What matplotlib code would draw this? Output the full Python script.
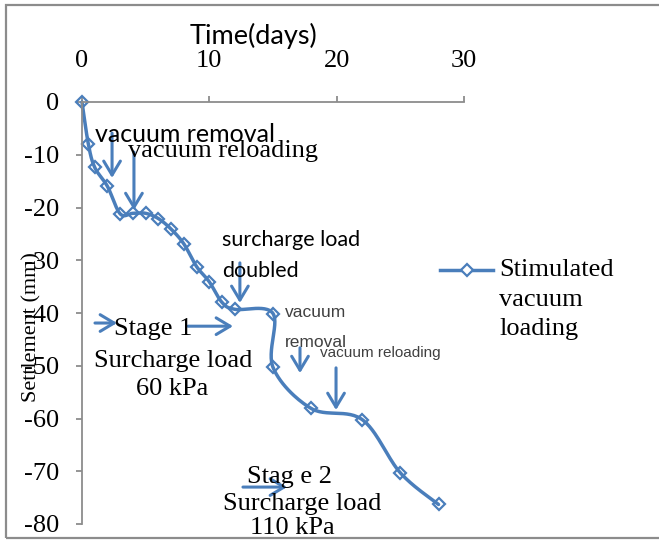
import numpy as np
import matplotlib
matplotlib.use('Agg')
import matplotlib.pyplot as plt
from matplotlib.lines import Line2D
from matplotlib.patches import Rectangle

# Settlement record
days = [0, 0.5, 1, 2, 3, 4, 5, 6, 7, 8, 9, 10, 11, 12, 15, 15, 18, 22, 25, 28]
settlement = [0, -8, -12.4, -16, -21.2, -21.1, -21.1, -22.1, -24.1, -26.9,
              -31.2, -34.1, -38, -39.3, -40.1, -50.3, -58.1, -60.2, -70.3, -76.3]
x_ticks = [0, 10, 20, 30]
y_ticks = [0, -10, -20, -30, -40, -50, -60, -70, -80]

BLUE = '#4A7EBB'
SERIF = 'Liberation Serif'
SANS = 'Lato'
NARROW = ['DejaVu Sans Condensed', 'Liberation Sans Narrow', 'Liberation Sans']

plt.rcParams['axes.unicode_minus'] = False


def smooth_curve(x, y, n=30):
    # Bezier smoothing through every point, like a spreadsheet "smoothed line"
    p = np.column_stack([x, y]).astype(float)
    ext = np.vstack([p[0], p, p[-1]])
    out = []
    s = np.linspace(0, 1, n)[:, None]
    for i in range(len(p) - 1):
        p0, p1, p2, p3 = ext[i], ext[i + 1], ext[i + 2], ext[i + 3]
        c1 = p1 + (p2 - p0) / 6.0
        c2 = p2 - (p3 - p1) / 6.0
        seg = ((1 - s) ** 3) * p1 + 3 * ((1 - s) ** 2) * s * c1 + 3 * (1 - s) * s ** 2 * c2 + s ** 3 * p2
        out.append(seg)
    out = np.vstack(out)
    return out[:, 0], out[:, 1]


fig = plt.figure(figsize=(6.59, 5.40), dpi=100)
fig.patches.append(Rectangle((6 / 659, 1 - 538 / 540), 1.0, 533 / 540, transform=fig.transFigure,
                             fill=False, edgecolor='#8c8c8c', lw=1.6))
ax = fig.add_axes([82 / 659, 1 - 524 / 540, 382 / 659, 422 / 540])

sx, sy = smooth_curve(days, settlement)
ax.plot(sx, sy, color=BLUE, lw=2.5, solid_capstyle='round', clip_on=False)
ax.plot(days, settlement, ls='none', marker='D', ms=6.5, mfc='none', mec=BLUE, mew=1.6, clip_on=False)

ax.set_xlim(0, 30)
ax.set_ylim(-80, 0)
ax.set_xticks(x_ticks)
ax.set_yticks(y_ticks)
ax.xaxis.tick_top()
for side in ['bottom', 'right']:
    ax.spines[side].set_visible(False)
for side in ['top', 'left']:
    ax.spines[side].set_color('#8c8c8c')
    ax.spines[side].set_linewidth(1.3)
ax.tick_params(axis='both', direction='out', length=4.5, width=1.3, color='#8c8c8c')
ax.tick_params(axis='x', pad=17)
ax.tick_params(axis='y', pad=12)
for lab in ax.get_xticklabels() + ax.get_yticklabels():
    lab.set_fontfamily(SERIF)
    lab.set_fontsize(19)

fig.text(253 / 659, 1 - 36 / 540, 'Time(days)', family=SANS, fontsize=19.5, ha='center', va='center')
fig.text(32 / 659, 1 - 327 / 540, 'Settlement (mm)', family=SERIF, fontsize=16,
         rotation=90, ha='center', va='center')

# legend drawn beside the plot
fig.add_artist(Line2D([440 / 659, 493 / 659], [1 - 270 / 540] * 2, color=BLUE, lw=2.5,
                      transform=fig.transFigure))
fig.add_artist(Line2D([466.5 / 659], [1 - 270 / 540], color=BLUE, marker='D', ms=6.5, mfc='white',
                      mec=BLUE, mew=1.6, ls='none', transform=fig.transFigure))
fig.text(499 / 659, 1 - 259 / 540, 'Stimulated\nvacuum\nloading', family=SERIF, fontsize=19,
         ha='left', va='top', linespacing=1.45, transform=fig.transFigure)

arrow = dict(arrowstyle='->,head_length=0.5,head_width=0.3', color=BLUE, lw=2.2,
             shrinkA=0, shrinkB=0, mutation_scale=20)


def pointer(x0, y0, x1, y1):
    ax.annotate('', xy=(x1, y1), xytext=(x0, y0), arrowprops=arrow, annotation_clip=False)


# stage 1 notes
pointer(2.36, -5.9, 2.36, -14.4)
pointer(4.08, -9.5, 4.08, -20.5)
ax.text(1.02, -7.6, 'vacuum removal', family=SANS, fontsize=18)
ax.text(3.61, -10.4, 'vacuum reloading', family=SERIF, fontsize=19)

pointer(12.4, -30.5, 12.4, -38.1)
ax.text(11.0, -27.3, 'surcharge load', family=SANS, fontsize=15.5)
ax.text(11.0, -33.2, 'doubled', family=SANS, fontsize=15.5)

pointer(1.02, -41.9, 2.75, -41.9)
pointer(8.32, -42.5, 11.86, -42.5)
ax.text(2.5, -44.2, 'Stage 1', family=SERIF, fontsize=19)
ax.text(7.2, -50.2, 'Surcharge load', family=SERIF, fontsize=19, ha='center')
ax.text(7.07, -55.5, '60 kPa', family=SERIF, fontsize=19, ha='center')

# stage 2 notes
ax.text(15.94, -40.8, 'vacuum', family=NARROW, fontsize=12.5, color='#404040')
ax.text(15.94, -46.4, 'removal', family=NARROW, fontsize=12.5, color='#404040')
pointer(17.12, -46.6, 17.12, -51.4)
ax.text(18.7, -48.3, 'vacuum reloading', family=NARROW, fontsize=11, color='#404040')
pointer(19.95, -50.4, 19.95, -58.4)

pointer(12.64, -73.0, 16.1, -73.0)
ax.text(12.96, -72.2, 'Stag e 2', family=SERIF, fontsize=19)
ax.text(11.07, -77.3, 'Surcharge load', family=SERIF, fontsize=19)
ax.text(16.5, -81.9, '110 kPa', family=SERIF, fontsize=19, ha='center')

fig.savefig('out.png', dpi=100)
